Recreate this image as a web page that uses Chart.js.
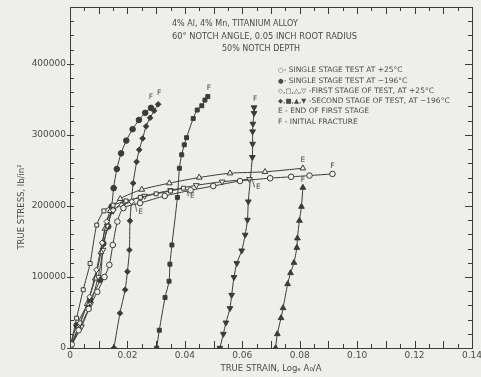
<!DOCTYPE html>
<html lang="en">
<head>
<meta charset="UTF-8">
<title>True stress - true strain, notched titanium alloy</title>
<style>
  html, body { margin: 0; padding: 0; background: #eeeeeb; }
  #wrap { width: 481px; height: 377px; }
</style>
<script src="https://cdn.jsdelivr.net/npm/chart.js"></script>
</head>
<body>
<div id="wrap"><canvas id="chart" width="481" height="377"></canvas></div>
<script>
// axis ticks
const strainTicks = [0, 0.02, 0.04, 0.06, 0.08, 0.10, 0.12, 0.14];
const stressTicks = [0, 100000, 200000, 300000, 400000];

// single stage test at +25 C (open circles)
const singleWarmStrain = [0, 0.0006, 0.0030, 0.0065, 0.0095, 0.0120, 0.0137, 0.0149, 0.0165, 0.0186, 0.0244, 0.0330, 0.0420, 0.0499, 0.0592, 0.0697, 0.0770, 0.0834, 0.0914];
const singleWarmStress = [0, 5000, 25000, 55000, 79000, 100000, 117000, 145000, 178000, 197000, 204000, 214000, 222000, 228000, 235000, 239000, 241000, 242700, 245000];

// single stage test at -196 C (filled circles)
const singleColdStrain = [0, 0.0023, 0.0070, 0.0104, 0.0116, 0.0133, 0.0145, 0.0152, 0.0163, 0.0178, 0.0196, 0.0218, 0.0240, 0.0262, 0.0282];
const singleColdStress = [0, 32000, 68000, 96000, 147000, 171000, 199000, 225000, 252000, 274000, 292000, 308000, 321000, 331000, 338000];

// first stage at +25 C
const firstDiamondStrain = [0, 0.0035, 0.0068, 0.0092, 0.0112, 0.0128, 0.0150, 0.0180, 0.0215];
const firstDiamondStress = [0, 35000, 72000, 110000, 148000, 178000, 194000, 201000, 206000];
const firstSquareStrain = [0, 0.0023, 0.0046, 0.0070, 0.0093, 0.0118, 0.0150, 0.0195, 0.0245, 0.0300, 0.0350, 0.0395];
const firstSquareStress = [0, 42000, 82000, 119000, 173000, 193000, 201000, 207000, 212000, 217000, 221000, 225000];
const firstTriStrain = [0, 0.0030, 0.0060, 0.0088, 0.0108, 0.0122, 0.0140, 0.0175, 0.0250, 0.0346, 0.0450, 0.0557, 0.0679, 0.0811];
const firstTriStress = [0, 30000, 62000, 98000, 135000, 168000, 193000, 210000, 223000, 232000, 240000, 246000, 248000, 253000];
const firstDownStrain = [0, 0.0040, 0.0072, 0.0098, 0.0115, 0.0130, 0.0150, 0.0190, 0.0260, 0.0350, 0.0440, 0.0530, 0.0625];
const firstDownStress = [0, 30000, 62000, 100000, 138000, 172000, 193000, 205000, 214000, 222000, 229000, 234000, 237500];

// second stage at -196 C
const secondDiamondStrain = [0.0153, 0.0174, 0.0192, 0.0200, 0.0207, 0.0209, 0.0220, 0.0232, 0.0241, 0.0253, 0.0265, 0.0279, 0.0293, 0.0307];
const secondDiamondStress = [0, 49000, 82000, 107500, 138000, 179000, 232000, 262000, 279000, 295000, 312000, 324000, 334000, 343000];
const secondSquareStrain = [0.0302, 0.0311, 0.0331, 0.0345, 0.0348, 0.0355, 0.0374, 0.0381, 0.0389, 0.0398, 0.0406, 0.0429, 0.0443, 0.0459, 0.0470, 0.0480];
const secondSquareStress = [0, 25000, 71000, 94000, 118000, 145000, 212000, 253000, 272000, 286000, 296000, 323000, 335000, 341000, 349000, 354000];
const secondDownStrain = [0.0522, 0.0534, 0.0543, 0.0557, 0.0563, 0.0571, 0.0581, 0.0598, 0.0610, 0.0618, 0.0621, 0.0635, 0.0636, 0.0636, 0.0637, 0.0641, 0.0641];
const secondDownStress = [0, 19700, 35600, 55900, 74600, 99600, 119300, 137000, 159200, 180300, 206100, 268600, 287300, 304700, 315500, 330600, 338500];
const secondTriStrain = [0.0716, 0.0722, 0.0735, 0.0742, 0.0758, 0.0768, 0.0780, 0.0790, 0.0792, 0.0799, 0.0806, 0.0811];
const secondTriStress = [0, 19700, 42300, 56300, 90100, 105600, 120100, 141300, 154500, 179300, 199000, 225800];

const ink = '#3b3b3b';
const paper = '#eeeeeb';
const textInk = '#4a4a4a';
const font = '"DejaVu Sans", sans-serif';

function series(xs, ys, style, filled, rot, mark) {
  return {
    data: xs.map((x, i) => ({ x: x, y: ys[i] })),
    borderColor: ink,
    borderWidth: 1,
    pointStyle: style,
    pointRotation: rot,
    pointRadius: style === 'triangle' ? 3.3 : 2.8,
    pointBorderWidth: 1,
    pointBorderColor: ink,
    pointBackgroundColor: filled ? ink : paper,
    tension: 0.25,
    fill: false,
    mark: mark
  };
}

const datasets = [
  series(singleWarmStrain, singleWarmStress, 'circle', false, 0, { t: 'F', dx: 0, dy: -8 }),
  series(firstDiamondStrain, firstDiamondStress, 'rectRot', false, 0, { t: 'E', dx: 9, dy: 10, lead: true }),
  series(firstSquareStrain, firstSquareStress, 'rect', false, 0, { t: 'E', dx: 9, dy: 8, lead: true }),
  series(firstTriStrain, firstTriStress, 'triangle', false, 0, { t: 'E', dx: 0, dy: -8 }),
  series(firstDownStrain, firstDownStress, 'triangle', false, 180, { t: 'E', dx: 9, dy: 8, lead: true }),
  series(singleColdStrain, singleColdStress, 'circle', true, 0, { t: 'F', dx: 0, dy: -11 }),
  series(secondDiamondStrain, secondDiamondStress, 'rectRot', true, 0, { t: 'F', dx: 1, dy: -11 }),
  series(secondSquareStrain, secondSquareStress, 'rect', true, 0, { t: 'F', dx: 1, dy: -8 }),
  series(secondDownStrain, secondDownStress, 'triangle', true, 180, { t: 'F', dx: 1, dy: -8 }),
  series(secondTriStrain, secondTriStress, 'triangle', true, 0, { t: 'F', dx: 0, dy: -8 })
];

// draws text made of runs with different font sizes
function runs(ctx, x, y, parts) {
  parts.forEach(p => {
    ctx.font = p[1] + 'px ' + font;
    ctx.fillText(p[0], x, y);
    x += ctx.measureText(p[0]).width;
  });
}

// box round the plot with inward ticks on all four sides
const frame = {
  id: 'frame',
  afterDatasetsDraw(chart) {
    const { ctx, chartArea: a, scales: { x, y } } = chart;
    ctx.save();
    ctx.strokeStyle = ink;
    ctx.lineWidth = 1;
    ctx.strokeRect(a.left + 0.5, a.top + 0.5, a.right - a.left, a.bottom - a.top);
    ctx.beginPath();
    for (let i = 1; i < 28; i++) {
      const px = Math.round(x.getPixelForValue(i * 0.005)) + 0.5;
      const len = i % 2 === 0 ? 7 : 4;
      ctx.moveTo(px, a.bottom); ctx.lineTo(px, a.bottom - len);
      ctx.moveTo(px, a.top); ctx.lineTo(px, a.top + len);
    }
    for (let i = 1; i < 24; i++) {
      const py = Math.round(y.getPixelForValue(i * 20000)) + 0.5;
      const len = i % 5 === 0 ? 7 : 4;
      ctx.moveTo(a.left, py); ctx.lineTo(a.left + 4, py);
      ctx.moveTo(a.right, py); ctx.lineTo(a.right - len, py);
    }
    stressTicks.forEach(v => {
      const py = Math.round(y.getPixelForValue(v)) + 0.5;
      ctx.moveTo(a.left - 3, py); ctx.lineTo(a.left, py);
    });
    ctx.stroke();
    ctx.restore();
  }
};

// titles, key and E/F marks
const notes = {
  id: 'notes',
  afterDraw(chart) {
    const { ctx, chartArea: a } = chart;
    ctx.save();
    ctx.fillStyle = textInk;
    ctx.strokeStyle = ink;
    ctx.textBaseline = 'middle';
    ctx.textAlign = 'left';
    ctx.font = '8px ' + font;
    ctx.fillText('4% Al, 4% Mn, TITANIUM ALLOY', 172, 24);
    ctx.font = '8.3px ' + font;
    ctx.fillText('60\u00b0 NOTCH ANGLE, 0.05 INCH ROOT RADIUS', 172, 37);
    ctx.font = '8px ' + font;
    ctx.fillText('50% NOTCH DEPTH', 222, 49);

    const s = 6.5, n = 7.5;
    runs(ctx, 278, 70, [['\u25cb', s], ['- SINGLE STAGE TEST AT +25\u00b0C', n]]);
    runs(ctx, 278, 81, [['\u25cf', s], ['- SINGLE STAGE TEST AT \u2212196\u00b0C', n]]);
    runs(ctx, 278, 91, [['\u25c7', s], [',', n], ['\u25a1', s], [',', n], ['\u25b3', s], [',', n], ['\u25bd', s], [' -FIRST STAGE OF TEST, AT +25\u00b0C', n]]);
    runs(ctx, 278, 101, [['\u25c6', s], [',', n], ['\u25a0', s], [',', n], ['\u25b2', s], [',', n], ['\u25bc', s], [' -SECOND STAGE OF TEST, AT \u2212196\u00b0C', n]]);
    runs(ctx, 278, 111, [['E - END OF FIRST STAGE', n]]);
    runs(ctx, 278, 122, [['F - INITIAL FRACTURE', n]]);

    // E / F letters at the end of each curve
    ctx.font = '7.5px ' + font;
    ctx.textAlign = 'center';
    chart.data.datasets.forEach((ds, i) => {
      const pts = chart.getDatasetMeta(i).data;
      const p = pts[pts.length - 1];
      const m = ds.mark;
      ctx.fillText(m.t, p.x + m.dx, p.y + m.dy);
      if (m.lead) {
        ctx.beginPath();
        ctx.moveTo(p.x + 3, p.y + 1);
        ctx.quadraticCurveTo(p.x + 5, p.y + m.dy - 1, p.x + m.dx - 4, p.y + m.dy);
        ctx.lineWidth = 0.8;
        ctx.stroke();
      }
    });

    // axis titles
    ctx.font = '8.5px ' + font;
    ctx.textAlign = 'center';
    ctx.fillText('TRUE STRAIN, Log\u2091 A\u2080/A', (a.left + a.right) / 2, 369);
    ctx.translate(22, 207);
    ctx.rotate(-Math.PI / 2);
    ctx.fillText('TRUE STRESS, lb/in\u00b2', 0, 0);
    ctx.restore();
  }
};

new Chart(document.getElementById('chart'), {
  type: 'line',
  data: { datasets: datasets },
  options: {
    responsive: false,
    devicePixelRatio: 1,
    animation: false,
    layout: { padding: { top: 7, right: 9, bottom: 0, left: 0 } },
    plugins: { legend: { display: false }, tooltip: { enabled: false } },
    scales: {
      x: {
        type: 'linear',
        min: 0, max: 0.14,
        grid: { display: false, drawTicks: false },
        border: { display: false },
        afterBuildTicks: sc => { sc.ticks = strainTicks.map(v => ({ value: v })); },
        afterFit: sc => { sc.height = 29; sc.paddingLeft = 0; sc.paddingRight = 0; },
        ticks: {
          padding: 2,
          color: textInk,
          font: { family: font, size: 9 },
          maxRotation: 0,
          callback: v => v === 0 ? '0' : v.toFixed(2)
        }
      },
      y: {
        type: 'linear',
        min: 0, max: 480000,
        grid: { display: false, drawTicks: false },
        border: { display: false },
        afterBuildTicks: sc => { sc.ticks = stressTicks.map(v => ({ value: v })); },
        afterFit: sc => { sc.width = 70; sc.paddingTop = 0; sc.paddingBottom = 0; },
        ticks: {
          padding: 4,
          color: textInk,
          font: { family: font, size: 9 },
          callback: v => String(v)
        }
      }
    }
  },
  plugins: [frame, notes]
});
</script>
</body>
</html>
